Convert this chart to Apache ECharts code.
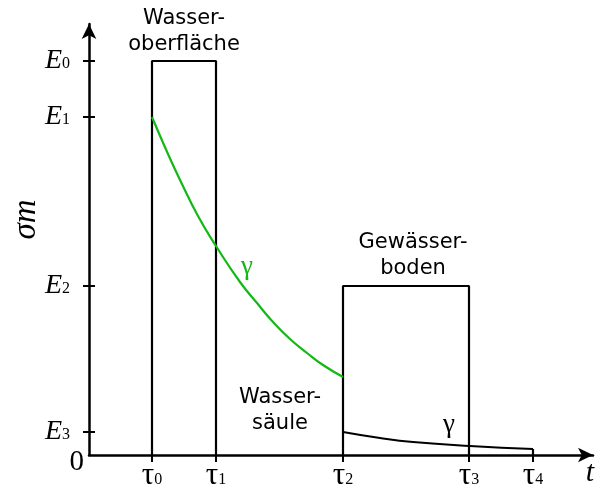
<!DOCTYPE html>
<html>
<head>
<meta charset="utf-8">
<script src="https://cdn.jsdelivr.net/npm/echarts@6/dist/echarts.min.js"></script>
<style>
  html, body { margin: 0; padding: 0; background: #fff; }
  #chart { width: 596px; height: 484px; }
</style>
</head>
<body>
<div id="chart"></div>
<script>
// zeitpunkte tau0..tau4 und energieniveaus E0..E3
const tau = [6.3, 12.7, 25.4, 38.0, 44.4]
const levels = [39.4, 33.8, 16.9, 2.3]
const levelNames = ['0', '1', '2', '3']
const tauNames = ['0', '1', '2', '3', '4']

// gruene kurve (wassersaeule)
const greenX = [6.3, 7.9, 9.2, 10.9, 12.7, 15.1, 16.8, 18.4, 20.1, 21.8, 23.4, 25.4]
const greenY = [33.8, 30.1, 27.3, 23.9, 20.9, 17.3, 15.2, 13.3, 11.6, 10.2, 9.0, 7.8]
// schwarze kurve (gewaesserboden)
const blackX = [25.4, 29.1, 32.4, 38.1, 44.4]
const blackY = [2.3, 1.7, 1.3, 0.9, 0.6]

const xMax = 50.4
const yMax = 43.1

const serif = 'Liberation Serif'

const chart = echarts.init(document.getElementById('chart'))

const zip = (xs, ys) => xs.map((x, i) => [x, ys[i]])
const box1 = [[tau[0], 0], [tau[0], levels[0]], [tau[1], levels[0]], [tau[1], 0]]
const box2 = [[tau[2], 0], [tau[2], levels[2]], [tau[3], levels[2]], [tau[3], 0]]

const axisLine = {
  show: true,
  symbol: ['none', 'arrow'],
  symbolSize: [11, 15],
  lineStyle: { color: '#000', width: 2.5 }
}

chart.setOption({
  animation: false,
  grid: { left: 89, right: 3, top: 24, bottom: 29, outerBoundsMode: 'none', containLabel: false },
  xAxis: {
    type: 'value',
    min: 0,
    max: xMax,
    name: 't',
    nameLocation: 'end',
    nameGap: -3,
    nameTextStyle: {
      fontFamily: serif, fontStyle: 'italic', fontSize: 30, color: '#000',
      align: 'center', verticalAlign: 'top', padding: [3, 0, 0, 0]
    },
    axisLine: axisLine,
    splitLine: { show: false },
    axisTick: {
      show: true, length: 7, customValues: tau,
      lineStyle: { color: '#000', width: 2 }
    },
    axisLabel: {
      customValues: tau,
      margin: 5,
      formatter: function (v) {
        return '{t|τ}{s|' + tauNames[tau.indexOf(v)] + '}'
      },
      rich: {
        t: { fontFamily: serif, fontSize: 31, color: '#000' },
        s: { fontFamily: serif, fontSize: 16, color: '#000', verticalAlign: 'bottom', padding: [0, 0, 3, 0] }
      }
    }
  },
  yAxis: [{
    type: 'value',
    min: 0,
    max: yMax,
    name: 'σm',
    nameLocation: 'middle',
    nameGap: 46,
    nameMoveOverlap: false,
    nameTextStyle: {
      fontFamily: serif, fontStyle: 'italic', fontSize: 33, color: '#000',
      padding: [0, 0, 0, 40]
    },
    axisLine: axisLine,
    splitLine: { show: false },
    axisTick: {
      show: true, length: 6, customValues: levels,
      lineStyle: { color: '#000', width: 2 }
    },
    axisLabel: {
      customValues: levels,
      margin: 19,
      formatter: function (v) {
        return '{e|E}{s|' + levelNames[levels.indexOf(v)] + '}'
      },
      rich: {
        e: { fontFamily: serif, fontStyle: 'italic', fontSize: 28, color: '#000' },
        s: { fontFamily: serif, fontSize: 16, color: '#000', verticalAlign: 'bottom', padding: [0, 0, 3, 0] }
      }
    }
  }, {
    // nur fuer die nach innen zeigenden ticks und die 0 am ursprung
    type: 'value',
    position: 'left',
    min: 0,
    max: yMax,
    axisLine: { show: false },
    splitLine: { show: false },
    axisTick: {
      show: true, inside: true, length: 6, customValues: levels,
      lineStyle: { color: '#000', width: 2 }
    },
    axisLabel: {
      customValues: [0],
      margin: 5,
      formatter: function () { return '{z|0}' },
      rich: {
        z: { fontFamily: serif, fontSize: 29, color: '#000', padding: [14, 0, 0, 0] }
      }
    }
  }],
  graphic: [
    { type: 'text', x: 184, y: 32, style: { text: 'Wasser-\noberfläche', font: '21px "DejaVu Sans"', fill: '#000', align: 'center', verticalAlign: 'middle', lineHeight: 26 } },
    { type: 'text', x: 413, y: 256, style: { text: 'Gewässer-\nboden', font: '21px "DejaVu Sans"', fill: '#000', align: 'center', verticalAlign: 'middle', lineHeight: 26 } },
    { type: 'text', x: 280, y: 411, style: { text: 'Wasser-\nsäule', font: '21px "DejaVu Sans"', fill: '#000', align: 'center', verticalAlign: 'middle', lineHeight: 26 } },
    { type: 'text', x: 247, y: 267, style: { text: 'γ', font: '27px "Liberation Serif"', fill: '#14b814', align: 'center', verticalAlign: 'middle' } },
    { type: 'text', x: 449, y: 425, style: { text: 'γ', font: '27px "Liberation Serif"', fill: '#000', align: 'center', verticalAlign: 'middle' } }
  ],
  series: [
    {
      name: 'Wasseroberfläche',
      type: 'line',
      data: box1,
      symbol: 'none',
      lineStyle: { color: '#000', width: 2.2 }
    },
    {
      name: 'Gewässerboden',
      type: 'line',
      data: box2,
      symbol: 'none',
      lineStyle: { color: '#000', width: 2.2 }
    },
    {
      name: 'Wassersäule',
      type: 'line',
      data: zip(greenX, greenY),
      smooth: 0.5,
      symbol: 'none',
      lineStyle: { color: '#14b814', width: 2.2 }
    },
    {
      name: 'Boden-Abbau',
      type: 'line',
      data: zip(blackX, blackY),
      smooth: 0.5,
      symbol: 'none',
      lineStyle: { color: '#000', width: 2.2 }
    },
    {
      name: 'Ende',
      type: 'line',
      data: [[tau[4], blackY[blackY.length - 1]], [tau[4], 0]],
      symbol: 'none',
      lineStyle: { color: '#000', width: 2.2 }
    }
  ]
})
</script>
</body>
</html>
